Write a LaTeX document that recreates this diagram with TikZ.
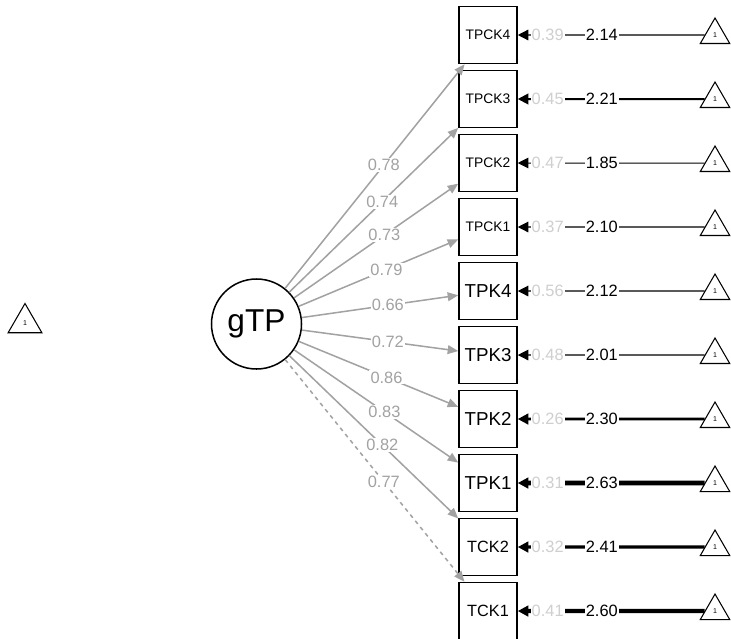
\documentclass[tikz,border=0pt]{standalone}
\usepackage{fontspec}
\setmainfont{Liberation Sans}
\usetikzlibrary{arrows.meta,shapes.geometric}

\definecolor{cinzacarga}{HTML}{A2A2A2}
\definecolor{cinzaresid}{HTML}{CFCFCF}

\begin{document}
\begin{tikzpicture}[x=0.03cm, y=-0.03cm, node distance=1.92cm,
        caixa/.style={draw=black, line width=1.3pt, minimum width=1.74cm, minimum height=1.71cm, inner sep=0pt},
        fator/.style={circle, draw=black, line width=1.3pt, minimum size=2.7cm, inner sep=0pt, font=\fontsize{27}{27}\selectfont},
        constante/.style={regular polygon, regular polygon sides=3, draw=black, line width=0.9pt, minimum size=1.02cm, inner sep=0pt, font=\fontsize{6}{6}\selectfont},
        carga/.style={draw=cinzacarga, line width=1.3pt, -{Triangle[length=9pt, width=7.5pt]}},
        intercepto/.style={draw=black, -{Triangle[length=9pt 0, width=9pt 0]}},
        rotulo/.style={fill=white, inner sep=1pt, font=\fontsize{14}{14}\selectfont},
        cargarot/.style={rotulo, text=cinzacarga, pos=0.55},
        interrot/.style={rotulo, text=black, pos=0.55},
        residrot/.style={rotulo, text=cinzaresid, pos=0.84},
        tpck/.style={caixa, font=\fontsize{11.8}{11.8}\selectfont},
        tpk/.style={caixa, font=\fontsize{16}{16}\selectfont},
        tck/.style={caixa, font=\fontsize{13.9}{13.9}\selectfont},
        um/.style={constante, node distance=6.81cm}]
        \useasboundingbox (0,0) rectangle (731,638);

        % fator latente e indicadores
        \node[fator](gtp) at (256.5,324){gTP};
        \node[tpck](tpck4) at (488,35){TPCK4};
        \node[tpck](tpck3) [below of=tpck4]{TPCK3};
        \node[tpck](tpck2) [below of=tpck3]{TPCK2};
        \node[tpck](tpck1) [below of=tpck2]{TPCK1};
        \node[tpk](tpk4) [below of=tpck1]{TPK4};
        \node[tpk](tpk3) [below of=tpk4]{TPK3};
        \node[tpk](tpk2) [below of=tpk3]{TPK2};
        \node[tpk](tpk1) [below of=tpk2]{TPK1};
        \node[tck](tck2) [below of=tpk1]{TCK2};
        \node[tck](tck1) [below of=tck2]{TCK1};

        % constantes
        \node[constante, minimum size=1.17cm](umfator) at (25,323){1};
        \node[um](um10) [right of=tpck4]{1};
        \node[um](um9) [right of=tpck3]{1};
        \node[um](um8) [right of=tpck2]{1};
        \node[um](um7) [right of=tpck1]{1};
        \node[um](um6) [right of=tpk4]{1};
        \node[um](um5) [right of=tpk3]{1};
        \node[um](um4) [right of=tpk2]{1};
        \node[um](um3) [right of=tpk1]{1};
        \node[um](um2) [right of=tck2]{1};
        \node[um](um1) [right of=tck1]{1};

        % cargas fatoriais
        \draw[carga] (gtp) -- node[cargarot]{0.78} (tpck4);
        \draw[carga] (gtp) -- node[cargarot]{0.74} (tpck3);
        \draw[carga] (gtp) -- node[cargarot]{0.73} (tpck2);
        \draw[carga] (gtp) -- node[cargarot]{0.79} (tpck1);
        \draw[carga] (gtp) -- node[cargarot]{0.66} (tpk4);
        \draw[carga] (gtp) -- node[cargarot]{0.72} (tpk3);
        \draw[carga] (gtp) -- node[cargarot]{0.86} (tpk2);
        \draw[carga] (gtp) -- node[cargarot]{0.83} (tpk1);
        \draw[carga] (gtp) -- node[cargarot]{0.82} (tck2);
        \draw[carga, dash pattern=on 3.4pt off 3.4pt] (gtp) -- node[cargarot]{0.77} (tck1);

        % interceptos
        \draw[intercepto, line width=1.1pt] (um10) -- node[interrot]{2.14} node[residrot]{0.39} (tpck4);
        \draw[intercepto, line width=1.7pt] (um9) -- node[interrot]{2.21} node[residrot]{0.45} (tpck3);
        \draw[intercepto, line width=0.85pt] (um8) -- node[interrot]{1.85} node[residrot]{0.47} (tpck2);
        \draw[intercepto, line width=1.1pt] (um7) -- node[interrot]{2.10} node[residrot]{0.37} (tpck1);
        \draw[intercepto, line width=1.1pt] (um6) -- node[interrot]{2.12} node[residrot]{0.56} (tpk4);
        \draw[intercepto, line width=1pt] (um5) -- node[interrot]{2.01} node[residrot]{0.48} (tpk3);
        \draw[intercepto, line width=2.2pt] (um4) -- node[interrot]{2.30} node[residrot]{0.26} (tpk2);
        \draw[intercepto, line width=4pt] (um3) -- node[interrot]{2.63} node[residrot]{0.31} (tpk1);
        \draw[intercepto, line width=2.8pt] (um2) -- node[interrot]{2.41} node[residrot]{0.32} (tck2);
        \draw[intercepto, line width=3.7pt] (um1) -- node[interrot]{2.60} node[residrot]{0.41} (tck1);
      \end{tikzpicture}
\end{document}
